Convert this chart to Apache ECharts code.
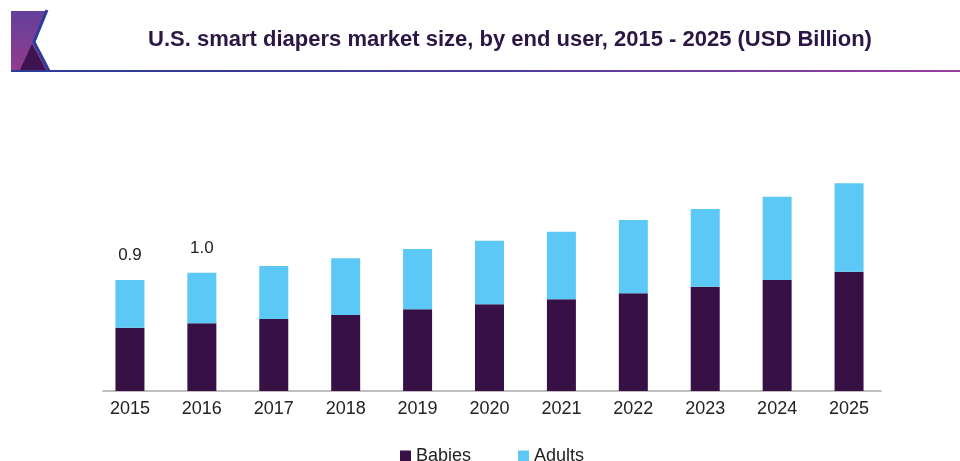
<!DOCTYPE html>
<html>
<head>
<meta charset="utf-8">
<script src="https://cdn.jsdelivr.net/npm/echarts@6/dist/echarts.min.js"></script>
<style>
html,body{margin:0;padding:0;background:#fff;}
#chart{width:960px;height:461px;}
</style>
</head>
<body>
<div id="chart"></div>
<script>
var categories = ['2015','2016','2017','2018','2019','2020','2021','2022','2023','2024','2025'];
var babies = [0.528,0.564,0.600,0.633,0.681,0.723,0.764,0.814,0.869,0.925,0.994];
var adults = [0.397,0.422,0.442,0.473,0.502,0.530,0.564,0.611,0.648,0.694,0.737];
var totalLabels = ['0.9','1.0','','','','','','','','',''];
var titleText = 'U.S. smart diapers market size, by end user, 2015 - 2025 (USD Billion)';

var FONT = '"Liberation Sans", Arial, sans-serif';
var chart = echarts.init(document.getElementById('chart'), null, {renderer:'canvas'});
chart.setOption({
  animation:false,
  backgroundColor:'#fff',
  graphic:[
    {type:'polygon', shape:{points:[[11,11],[47,11],[34,42],[49,72],[11,72]]},
     style:{fill:new echarts.graphic.LinearGradient(0,0,0,1,[{offset:0,color:'#64409a'},{offset:1,color:'#933c8e'}])}},
    {type:'polygon', shape:{points:[[32,44],[19,72],[47,72]]}, style:{fill:'#3d1350'}},
    {type:'polyline', shape:{points:[[47,10],[34,42],[49,71]]}, style:{stroke:'#2b3d9c',lineWidth:3,fill:null}},
    {type:'rect', shape:{x:11,y:70,width:949,height:2},
     style:{fill:new echarts.graphic.LinearGradient(0,0,1,0,[{offset:0,color:'#2b3a98'},{offset:0.5,color:'#4a3c9c'},{offset:1,color:'#9b3f9e'}])}},
    {type:'text', x:510, y:40, style:{text:titleText, font:'bold 22px '+FONT, fill:'#2c1744', textAlign:'center', textVerticalAlign:'middle'}}
  ],
  legend:{
    data:['Babies','Adults'], left:395, top:442, itemWidth:11, itemHeight:11, itemGap:47,
    icon:'rect', textStyle:{fontFamily:FONT, fontSize:18, color:'#222'}
  },
  grid:[
    {left:94, right:75, top:151, bottom:70},
    {left:103, right:79, top:151, bottom:70}
  ],
  xAxis:[
    {type:'category', data:categories, gridIndex:0,
     axisLine:{show:false}, axisTick:{show:false},
     axisLabel:{fontFamily:FONT, fontSize:18, color:'#222', margin:9}},
    {type:'value', gridIndex:1, min:0, max:1, axisLine:{show:true, lineStyle:{color:'#aaaaaa', width:1.5}},
     axisTick:{show:false}, axisLabel:{show:false}, splitLine:{show:false}}
  ],
  yAxis:[
    {type:'value', gridIndex:0, min:0, max:2, show:false, splitLine:{show:false}},
    {type:'value', gridIndex:1, min:0, max:2, show:false, splitLine:{show:false}}
  ],
  series:[
    {name:'Babies', type:'bar', stack:'t', data:babies, barWidth:29, itemStyle:{color:'#371046'}},
    {name:'Adults', type:'bar', stack:'t', data:adults, barWidth:29, itemStyle:{color:'#5bc8f5'},
     label:{show:true, position:'top', distance:16, fontFamily:FONT, fontSize:17, color:'#222',
       formatter:function(p){return totalLabels[p.dataIndex];}}}
  ]
});
</script>
</body>
</html>
